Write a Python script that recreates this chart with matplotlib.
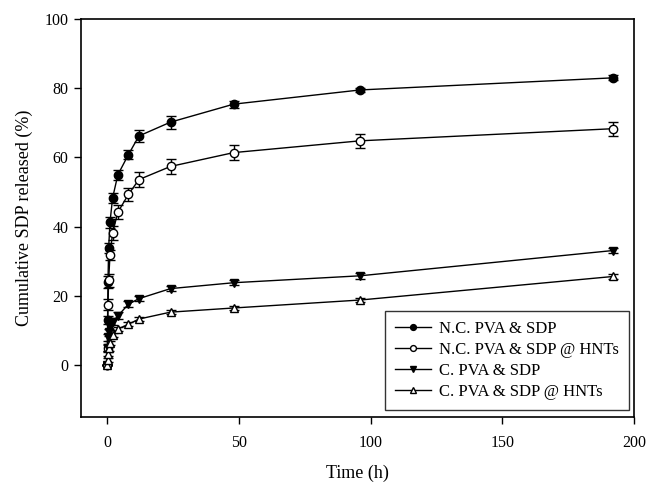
import matplotlib.pyplot as plt

plt.rcParams['font.family'] = ['Liberation Serif', 'DejaVu Serif']

# sampling times (h)
time_h = [0, 0.083, 0.25, 0.5, 1, 2, 4, 8, 12, 24, 48, 96, 192]

# cumulative release (%) and standard deviations
nc_sdp = [0, 13.0, 24.0, 33.8, 41.2, 48.3, 55.0, 60.8, 66.2, 70.2, 75.4, 79.5, 83.0]
nc_sdp_err = [0, 1.2, 1.8, 1.5, 1.5, 1.5, 1.5, 1.3, 1.8, 1.9, 1.0, 0.5, 0.7]

nc_hnt = [0, 5.0, 17.5, 24.5, 31.8, 38.2, 44.2, 49.3, 53.6, 57.4, 61.4, 64.8, 68.3]
nc_hnt_err = [0, 1.0, 1.5, 1.8, 1.5, 2.0, 2.0, 2.0, 2.2, 2.1, 2.1, 2.0, 2.0]

c_sdp = [0, 5.0, 8.0, 9.5, 11.0, 12.5, 14.2, 17.6, 19.2, 22.1, 23.8, 25.8, 33.1]
c_sdp_err = [0, 0.8, 1.0, 1.0, 1.0, 1.0, 1.0, 0.8, 0.8, 0.8, 0.8, 0.8, 0.8]

c_hnt = [0, 1.5, 3.2, 4.8, 6.5, 8.6, 10.4, 11.8, 13.3, 15.3, 16.5, 18.8, 25.6]
c_hnt_err = [0, 0.5, 0.6, 0.6, 0.6, 0.6, 0.6, 0.6, 0.6, 0.6, 0.6, 0.6, 0.8]

fig = plt.figure(figsize=(6.48, 4.83), dpi=100)
ax = fig.add_axes([81 / 648, 1 - 417 / 483, 553 / 648, 398 / 483])

style = dict(color='black', lw=1.0, ms=6, elinewidth=1.0, capsize=3.5,
             capthick=1.0, markeredgecolor='black', markeredgewidth=1.0)
ax.errorbar(time_h, nc_sdp, yerr=nc_sdp_err, marker='o', mfc='black',
            label='N.C. PVA & SDP', **style)
ax.errorbar(time_h, nc_hnt, yerr=nc_hnt_err, marker='o', mfc='white',
            label='N.C. PVA & SDP @ HNTs', **style)
ax.errorbar(time_h, c_sdp, yerr=c_sdp_err, marker='v', mfc='black',
            label='C. PVA & SDP', **style)
ax.errorbar(time_h, c_hnt, yerr=c_hnt_err, marker='^', mfc='white',
            label='C. PVA & SDP @ HNTs', **style)

ax.set_xlim(-10, 200)
ax.set_ylim(-15, 100)
ax.set_xticks([0, 50, 100, 150, 200])
ax.set_yticks([0, 20, 40, 60, 80, 100])
ax.tick_params(direction='out', length=5, width=1, labelsize=11.5)
ax.tick_params(axis='x', pad=8)
ax.tick_params(axis='y', pad=4)
for s in ax.spines.values():
    s.set_linewidth(1.2)
ax.set_xlabel('Time (h)', fontsize=13, labelpad=10)
ax.set_ylabel('Cumulative SDP released (%)', fontsize=13, labelpad=8)

# legend without error bars in handles
handles, labels = ax.get_legend_handles_labels()
handles = [h[0] for h in handles]
leg = ax.legend(handles, labels, loc='lower right', fontsize=12,
                frameon=True, fancybox=False, handlelength=2.15,
                markerscale=0.7, borderpad=0.6, labelspacing=0.3,
                handletextpad=0.5, borderaxespad=0,
                bbox_to_anchor=(0.991, 0.0176))
leg.get_frame().set_edgecolor('black')
leg.get_frame().set_linewidth(1.0)

fig.savefig('out.png', dpi=100)
